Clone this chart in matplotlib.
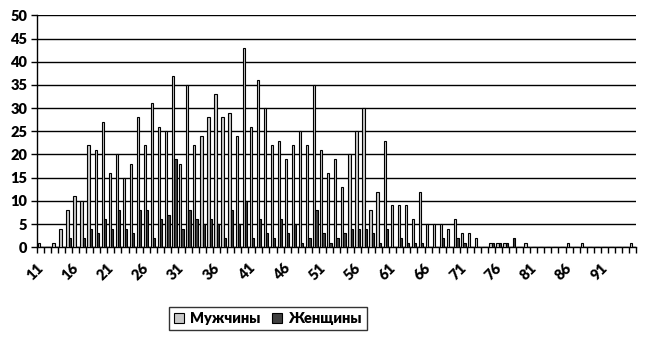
import numpy as np
import matplotlib
matplotlib.use('Agg')
import matplotlib.pyplot as plt
import matplotlib.transforms as mtransforms

plt.rcParams['font.family'] = ['Lato', 'DejaVu Sans']
plt.rcParams['font.weight'] = 'heavy'

ages = list(range(11, 96))
men = [1, 0, 1, 4, 8, 11, 10, 22, 21, 27,
       16, 20, 15, 18, 28, 22, 31, 26, 25, 37,
       18, 35, 22, 24, 28, 33, 28, 29, 24, 43,
       26, 36, 30, 22, 23, 19, 22, 25, 22, 35,
       21, 16, 19, 13, 20, 25, 30, 8, 12, 23,
       9, 9, 9, 6, 12, 5, 5, 5, 4, 6,
       3, 3, 2, 0, 1, 1, 1, 0, 0, 1,
       0, 0, 0, 0, 0, 1, 0, 1, 0, 0,
       0, 0, 0, 0, 1]
women = [0, 0, 0, 0, 2, 0, 2, 4, 3, 6,
         4, 8, 4, 3, 8, 8, 2, 6, 7, 19,
         4, 8, 6, 5, 6, 5, 2, 8, 5, 10,
         2, 6, 3, 2, 6, 3, 5, 1, 2, 8,
         3, 1, 2, 3, 4, 4, 4, 3, 1, 4,
         0, 2, 1, 1, 1, 0, 0, 2, 0, 2,
         1, 0, 0, 0, 1, 1, 1, 2, 0, 0,
         0, 0, 0, 0, 0, 0, 0, 0, 0, 0,
         0, 0, 0, 0, 0]
label_ages = list(range(11, 92, 5))

fig = plt.figure(figsize=(6.47, 3.41), dpi=100)
ax = fig.add_axes([0.057, 0.275, 0.926, 0.680])

x = np.arange(len(ages))
w = 0.32
ax.bar(x - w / 2, men, width=w, color='#c8c8c8', edgecolor='black', linewidth=0.8,
       label='Мужчины', zorder=3)
ax.bar(x + w / 2, women, width=w, color='#404040', edgecolor='black', linewidth=0.8,
       label='Женщины', zorder=3)

ax.set_xlim(-0.5, len(ages) - 0.5)
ax.set_ylim(0, 50)
ax.set_yticks(range(0, 51, 5))
ax.yaxis.grid(True, color='black', linewidth=1.0, zorder=0)
ax.tick_params(axis='y', labelsize=10.5, length=4, width=1, direction='out', pad=3)

# category boundaries get the tick marks, labels sit under every fifth age
ax.set_xticks(np.arange(-0.5, len(ages)), minor=True)
ax.set_xticks([ages.index(a) for a in label_ages])
ax.set_xticklabels([str(a) for a in label_ages], rotation=45, ha='right',
                   va='top', rotation_mode='anchor', fontsize=10.5)
ax.tick_params(axis='x', which='major', length=0, pad=10)
ax.tick_params(axis='x', which='minor', length=4, width=1, direction='out')
shift = mtransforms.ScaledTranslation(-0.04, 0, fig.dpi_scale_trans)
for lab in ax.get_xticklabels():
    lab.set_transform(lab.get_transform() + shift)

for s in ['top', 'right']:
    ax.spines[s].set_visible(False)
ax.spines['left'].set_linewidth(1)
ax.spines['bottom'].set_linewidth(1)

leg = fig.legend(loc='center', bbox_to_anchor=(0.414, 0.066), ncol=2, fontsize=10.5,
                 frameon=True, fancybox=False, edgecolor='black', handlelength=0.7,
                 handleheight=0.7, handletextpad=0.4, columnspacing=0.8,
                 borderpad=0.35)
leg.get_frame().set_linewidth(1.0)

fig.savefig('out.png', dpi=100)
